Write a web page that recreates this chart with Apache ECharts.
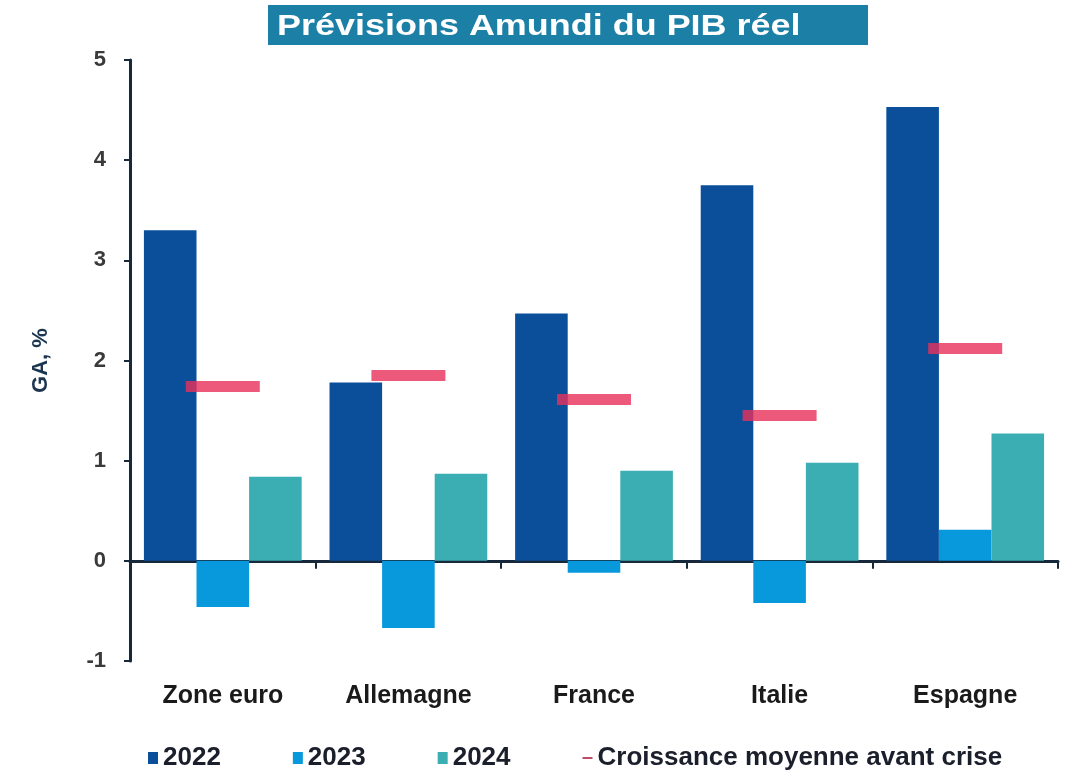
<!DOCTYPE html>
<html><head><meta charset="utf-8">
<script src="https://cdn.jsdelivr.net/npm/echarts@6/dist/echarts.min.js"></script>
<style>html,body{margin:0;padding:0;background:#fff}#c{width:1089px;height:771px}</style>
</head><body><div id="c"></div>
<script>
const categories = ['Zone euro', 'Allemagne', 'France', 'Italie', 'Espagne'];
const s2022 = [3.30, 1.78, 2.47, 3.75, 4.53];
const s2023 = [-0.46, -0.67, -0.12, -0.42, 0.31];
const s2024 = [0.84, 0.87, 0.90, 0.98, 1.27];
const avantCrise = [1.74, 1.85, 1.61, 1.45, 2.12];
const yTicks = [-1, 0, 1, 2, 3, 4, 5];

const FONT = '"Liberation Sans", Arial, sans-serif';
const chart = echarts.init(document.getElementById('c'));
chart.setOption({
  animation: false,
  textStyle: { fontFamily: FONT },
  graphic: [
    { type: 'rect', left: 268, top: 5, shape: { width: 600, height: 40 }, style: { fill: '#1b7fa6' } },
    { type: 'text', x: 277, y: 12, scaleX: 1.24, style: { text: 'Prévisions Amundi du PIB réel', fill: '#fff', font: 'bold 29px ' + FONT } }
  ],
  grid: { left: 130, right: 31, top: 60, bottom: 110 },
  legend: {
    left: 143, top: 740, itemWidth: 10, itemHeight: 12, itemGap: 72,
    textStyle: { fontSize: 26, fontWeight: 'bold', color: '#1a1f2b', fontFamily: FONT },
    data: [
      { name: '2022', icon: 'rect' },
      { name: '2023', icon: 'rect' },
      { name: '2024', icon: 'rect' },
      { name: 'Croissance moyenne avant crise', icon: 'path://M0,8 L10,8 L10,10 L0,10 Z', itemStyle: { color: '#b0203f' } }
    ]
  },
  xAxis: {
    type: 'category', data: categories,
    axisLine: { onZero: true, lineStyle: { color: '#17283a', width: 3 } },
    axisTick: { show: true, alignWithLabel: false, length: 8, lineStyle: { color: '#17283a', width: 2 } },
    axisLabel: { fontSize: 25, fontWeight: 'bold', color: '#1a1a1a', margin: 23 }
  },
  yAxis: {
    type: 'value', min: -1, max: 5, interval: 1,
    name: 'GA, %', nameLocation: 'middle', nameGap: 78, nameRotate: 90,
    nameTextStyle: { fontSize: 22, fontWeight: 'bold', color: '#1d3650', fontFamily: FONT },
    axisLine: { show: true, lineStyle: { color: '#17283a', width: 3 } },
    axisTick: { show: true, length: 6, lineStyle: { color: '#17283a', width: 2 } },
    axisLabel: { fontSize: 22, fontWeight: 'bold', color: '#3a3a3a', margin: 24, formatter: v => yTicks.includes(v) ? String(v) : '' },
    splitLine: { show: false }
  },
  series: [
    { name: '2022', type: 'bar', data: s2022, barGap: '0%', barCategoryGap: '15%', itemStyle: { color: '#0b4f9b' } },
    { name: '2023', type: 'bar', data: s2023, itemStyle: { color: '#0899dd' } },
    { name: '2024', type: 'bar', data: s2024, itemStyle: { color: '#3aaeb2' } },
    { name: 'Croissance moyenne avant crise', type: 'scatter', data: avantCrise, symbol: 'rect', symbolSize: [74, 11], z: 5, itemStyle: { color: '#e8305a' } }
  ]
});
</script></body></html>
